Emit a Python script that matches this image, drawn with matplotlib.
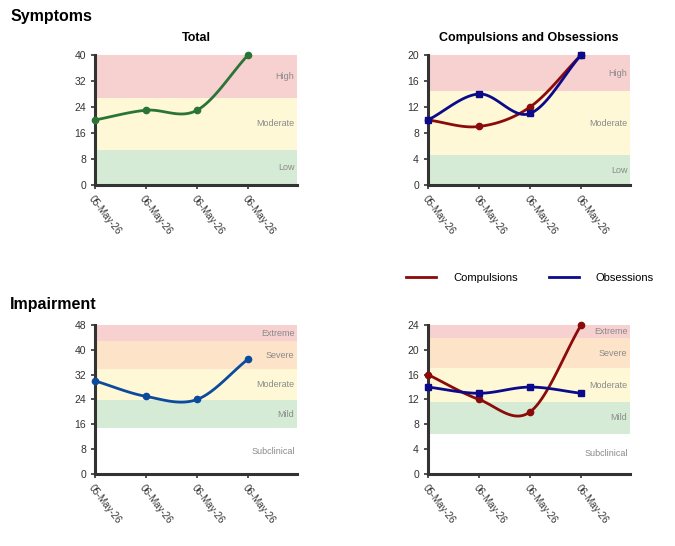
import numpy as np
import matplotlib.pyplot as plt

plt.rcParams['font.family'] = ['Liberation Sans', 'DejaVu Sans']

dates = ["05-May-26", "06-May-26", "06-May-26", "06-May-26"]

symptom_total = [20, 23, 23, 40]
symptom_comp = [10, 9, 12, 20]
symptom_obs = [10, 14, 11, 20]
impair_total = [30, 25, 24, 37]
impair_comp = [16, 12, 10, 24]
impair_obs = [14, 13, 14, 13]

# band edges and labels
sym_total_bands = [0, 10.8, 26.9, 40]
sym_sub_bands = [0, 4.6, 14.4, 20]
sym_labels = ["Low", "Moderate", "High"]
sym_colors = ["#d6ebd6", "#fef8d6", "#f7d0d0"]

imp_total_bands = [0, 14.7, 23.8, 33.8, 42.8, 48]
imp_sub_bands = [0, 6.5, 11.6, 17.0, 21.9, 24]
imp_labels = ["Subclinical", "Mild", "Moderate", "Severe", "Extreme"]
imp_colors = ["#ffffff", "#d6ebd6", "#fef8d6", "#fde4c8", "#f7d0d0"]

GREEN = "#2a7436"
RED = "#8b0a0a"
NAVY = "#0a0a8a"
BLUE = "#0b4a9c"


def smooth(y, n=30):
    # catmull-rom curve through the points (for drawing only)
    y = np.asarray(y, float)
    x = np.arange(len(y), dtype=float)
    px = np.concatenate([[2 * x[0] - x[1]], x, [2 * x[-1] - x[-2]]])
    py = np.concatenate([[2 * y[0] - y[1]], y, [2 * y[-1] - y[-2]]])
    xs, ys = [], []
    t = np.linspace(0, 1, n)
    for i in range(1, len(px) - 2):
        for arr, out in ((px, xs), (py, ys)):
            p0, p1, p2, p3 = arr[i - 1:i + 3]
            out.append(0.5 * ((2 * p1) + (-p0 + p2) * t
                              + (2 * p0 - 5 * p1 + 4 * p2 - p3) * t ** 2
                              + (-p0 + 3 * p1 - 3 * p2 + p3) * t ** 3))
    return np.concatenate(xs), np.concatenate(ys)


def setup(ax, edges, labels, colors, ymax, step):
    xmax = 3.96
    for i in range(len(labels)):
        ax.axhspan(edges[i], edges[i + 1], color=colors[i], lw=0, zorder=0)
        ax.text(xmax - 0.05, (edges[i] + edges[i + 1]) / 2, labels[i],
                ha='right', va='center', fontsize=6.5, color='#8a8a8a')
    ax.set_xlim(0, xmax)
    ax.set_ylim(0, ymax)
    ax.set_yticks(np.arange(0, ymax + 1, step))
    ax.set_xticks(range(len(dates)))
    ax.set_xticklabels(dates, rotation=-52, ha='left', rotation_mode='anchor',
                       fontsize=7, color='#333333')
    ax.tick_params(axis='y', labelsize=7.5, colors='#333333', length=3, width=1.2)
    ax.tick_params(axis='x', length=3, width=1.2, colors='#333333')
    for s in ['top', 'right']:
        ax.spines[s].set_visible(False)
    for s in ['left', 'bottom']:
        ax.spines[s].set_linewidth(2.2)
        ax.spines[s].set_color('#333333')


def draw(ax, y, color, marker, ms):
    sx, sy = smooth(y)
    ax.plot(sx, sy, color=color, lw=2, zorder=3, clip_on=False)
    ax.plot(range(len(y)), y, ls='none', marker=marker, ms=ms, color=color,
            zorder=4, clip_on=False)


fig = plt.figure(figsize=(6.75, 5.46), dpi=100)
w, h_top, h_bot = 0.2993, 0.2381, 0.2729
ax1 = fig.add_axes([0.1407, 0.6612, w, h_top])
ax2 = fig.add_axes([0.6341, 0.6612, w, h_top])
ax3 = fig.add_axes([0.1407, 0.1319, w, h_bot])
ax4 = fig.add_axes([0.6341, 0.1319, w, h_bot])

setup(ax1, sym_total_bands, sym_labels, sym_colors, 40, 8)
draw(ax1, symptom_total, GREEN, 'o', 4.5)
ax1.set_title("Total", fontsize=9, fontweight='bold', pad=10)

setup(ax2, sym_sub_bands, sym_labels, sym_colors, 20, 4)
draw(ax2, symptom_comp, RED, 'o', 4.5)
draw(ax2, symptom_obs, NAVY, 's', 5)
ax2.set_title("Compulsions and Obsessions", fontsize=9, fontweight='bold', pad=10)

setup(ax3, imp_total_bands, imp_labels, imp_colors, 48, 8)
draw(ax3, impair_total, BLUE, 'o', 4.5)

setup(ax4, imp_sub_bands, imp_labels, imp_colors, 24, 4)
draw(ax4, impair_comp, RED, 'o', 4.5)
draw(ax4, impair_obs, NAVY, 's', 5)

fig.text(0.015, 0.97, "Symptoms", fontsize=11.5, fontweight='bold', va='center')
fig.text(0.015, 0.443, "Impairment", fontsize=11.5, fontweight='bold', va='center')

handles = [plt.Line2D([], [], color=RED, lw=2), plt.Line2D([], [], color=NAVY, lw=2)]
fig.legend(handles, ["Compulsions", "Obsessions"], loc='center',
           bbox_to_anchor=(0.785, 0.491), ncol=2, frameon=False, fontsize=8,
           handlelength=2.7, columnspacing=2.8, handletextpad=1.5)

fig.savefig("out.png", dpi=100)
